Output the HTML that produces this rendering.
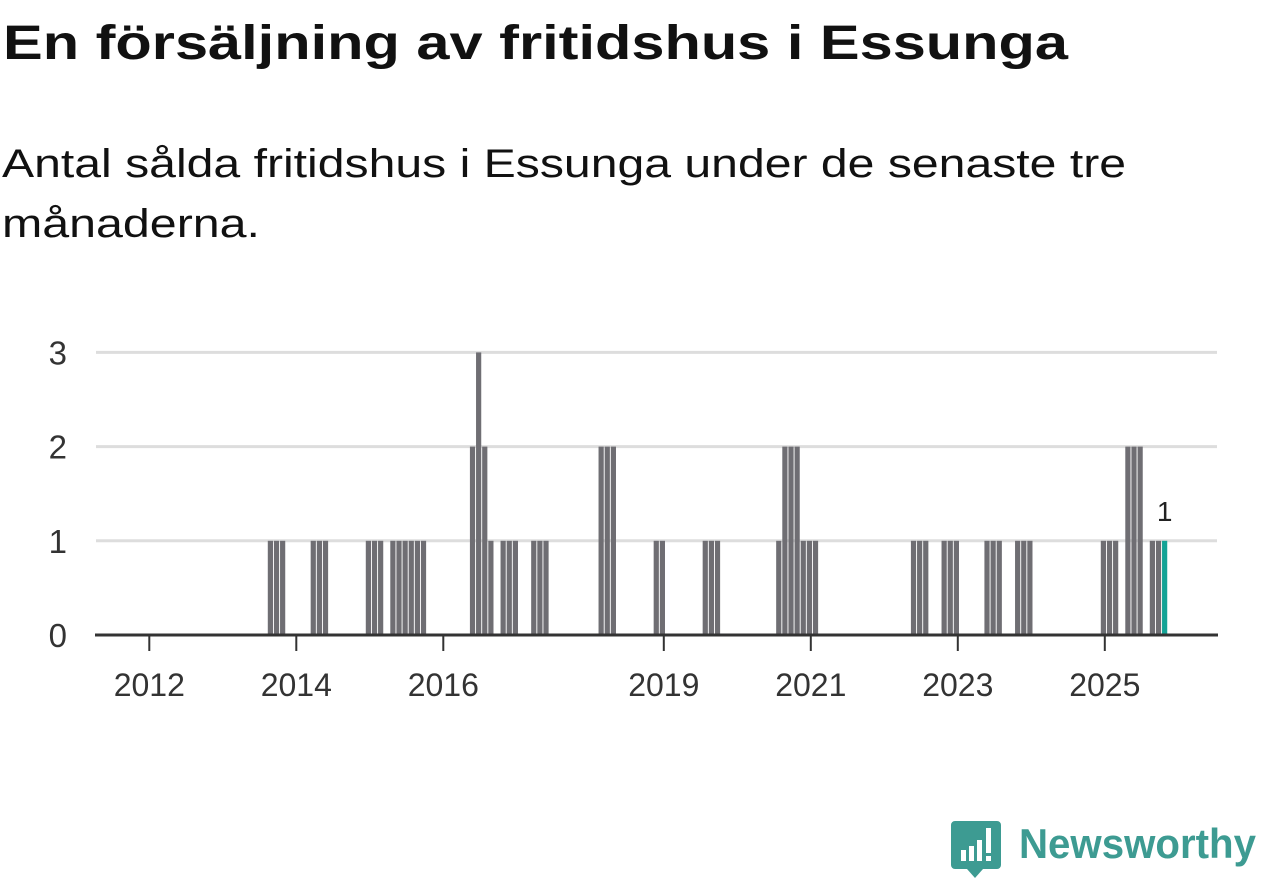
<!DOCTYPE html>
<html><head><meta charset="utf-8"><style>
html,body{margin:0;padding:0;background:#fff;width:1262px;height:879px;overflow:hidden}
svg{display:block}
</style></head><body>
<svg id="chart" width="1262" height="879" viewBox="0 0 1262 879" xmlns="http://www.w3.org/2000/svg" font-family="'Liberation Sans', sans-serif">
<text x="3" y="59" font-size="48" font-weight="bold" fill="#111" textLength="1065" lengthAdjust="spacingAndGlyphs">En försäljning av fritidshus i Essunga</text>
<text x="2" y="177" font-size="40" fill="#111" textLength="1124" lengthAdjust="spacingAndGlyphs">Antal sålda fritidshus i Essunga under de senaste tre</text>
<text x="2" y="237" font-size="40" fill="#111" textLength="258" lengthAdjust="spacingAndGlyphs">månaderna.</text>
<g id="grid"></g><g id="bars"></g><g id="axes"></g>
<g>
<path d="M955 821 h42 a4 4 0 0 1 4 4 v40 a4 4 0 0 1 -4 4 h-14 l-8 9 l-8 -9 h-12 a4 4 0 0 1 -4 -4 v-40 a4 4 0 0 1 4 -4z" fill="#3d9b92"/>
<rect x="961" y="850" width="5" height="11" fill="#fff"/><rect x="969" y="846" width="5" height="15" fill="#fff"/><rect x="977" y="840" width="5" height="21" fill="#fff"/><rect x="986" y="828" width="5" height="25" fill="#fff"/><rect x="986" y="856" width="5" height="5" fill="#fff"/>
<text x="1019" y="858" font-size="42" font-weight="bold" fill="#3d9b92" textLength="237" lengthAdjust="spacingAndGlyphs">Newsworthy</text>
</g>
</svg>
<script>
// months counted from Jan 2012 (0)
const months = [19,20,21, 26,27,28, 35,36,37, 39,40,41,42,43,44, 52,53,54,55, 57,58,59, 62,63,64, 73,74,75, 82,83, 90,91,92, 102,103,104,105,106,107,108, 124,125,126, 129,130,131, 136,137,138, 141,142,143, 155,156,157, 159,160,161, 163,164,165];
const values = [1,1,1, 1,1,1, 1,1,1, 1,1,1,1,1,1, 2,3,2,1, 1,1,1, 1,1,1, 2,2,2, 1,1, 1,1,1, 1,2,2,2,1,1,1, 1,1,1, 1,1,1, 1,1,1, 1,1,1, 1,1,1, 2,2,2, 1,1,1];
const yTicks = [0,1,2,3];
const xTickYears = [2012,2014,2016,2019,2021,2023,2025];
const NS='http://www.w3.org/2000/svg';
const x0=149.3, perMonth=6.125;
const xs = m => x0 + (m+0.77)*perMonth;
const ys = v => 635 - v*94.2;
function mk(tag, attrs, parent){const e=document.createElementNS(NS,tag);for(const k in attrs)e.setAttribute(k,attrs[k]);parent.appendChild(e);return e;}
const grid=document.getElementById('grid'), bars=document.getElementById('bars'), axes=document.getElementById('axes');
yTicks.forEach(t=>{
  if(t>0){const l=mk('line',{x1:96,x2:1217,y1:ys(t),y2:ys(t),stroke:'#ddd','stroke-width':3},grid);
  
  }
  const tx=mk('text',{x:67,y:ys(t)+12,'font-size':33,fill:'#333','text-anchor':'end'},axes);tx.textContent=t;
  
  
});
const last=months.length-1;
months.forEach((m,i)=>{
  const r=mk('rect',{x:xs(m)-2.6,y:ys(values[i]),width:5.2,height:635-ys(values[i]),fill:i===last?'#14a396':'#6f6e73'},bars);
  
  
});
const lbl=mk('text',{x:xs(months[last]),y:ys(values[last])-20,'font-size':28,fill:'#222','text-anchor':'middle'},axes);
lbl.textContent=values[last];


const ax=mk('line',{x1:95,x2:1218,y1:635,y2:635,stroke:'#333','stroke-width':3},axes);


xTickYears.forEach(yr=>{
  const x=x0+(yr-2012)*12*perMonth;
  const tk=mk('line',{x1:x,x2:x,y1:635,y2:651,stroke:'#333','stroke-width':2},axes);
  
  
  const t=mk('text',{x:x,y:696,'font-size':32,fill:'#333','text-anchor':'middle'},axes);t.textContent=yr;
  
  
});
</script>
</body></html>
